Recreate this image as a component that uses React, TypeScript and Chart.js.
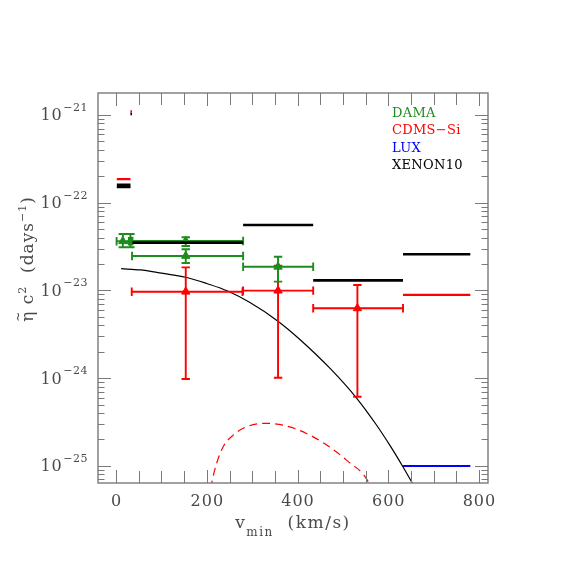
import React, { useEffect, useRef } from 'react';
import { Chart, registerables } from 'chart.js';

Chart.register(...registerables);

// ---- axis ranges & ticks ----
const X_MIN = -40;
const X_MAX = 820;
const Y_MIN = 6.37e-26;
const Y_MAX = 1.78e-21;
const xTickValues = [0, 200, 400, 600, 800];
const xTickLabels = ['0', '200', '400', '600', '800'];
const xMinorTickValues = [50, 100, 150, 250, 300, 350, 450, 500, 550, 650, 700, 750];
const yTickExponents = [-25, -24, -23, -22, -21];
const yMinorMantissas = [2, 3, 4, 5, 6, 7, 8, 9];

// ---- DAMA (green) ----
const damaV = [14.8, 31.5, 153.5, 153.5, 357];
const damaEta = [3.64e-23, 3.64e-23, 3.66e-23, 2.47e-23, 1.86e-23];
const damaEtaLo = [3.1e-23, 3.1e-23, 3.21e-23, 2.05e-23, 1.26e-23];
const damaEtaHi = [4.4e-23, 4.4e-23, 4.03e-23, 2.94e-23, 2.42e-23];
const damaVLo = [1, 28, 36, 35, 280];
const damaVHi = [28.5, 35, 280, 280, 434.5];

// ---- CDMS-Si (red) ----
const cdmsV = [153.5, 357, 532];
const cdmsEta = [9.66e-24, 9.93e-24, 6.25e-24];
const cdmsEtaLo = [9.77e-25, 1.01e-24, 6.14e-25];
const cdmsEtaHi = [1.83e-23, 1.91e-23, 1.15e-23];
const cdmsVLo = [34.4, 280, 434.5];
const cdmsVHi = [278.6, 434.5, 632.6];
const cdmsBoundVLo = [1.5, 31.5, 632.6];
const cdmsBoundVHi = [31.7, 35, 781];
const cdmsBoundEta = [1.86e-22, 1.1e-21, 8.87e-24];

// ---- XENON10 (black) ----
const xenonVLo = [1.5, 1.5, 31.5, 36, 280, 434.5, 632.6];
const xenonVHi = [31.7, 31.7, 35, 280, 434.5, 632.6, 781];
const xenonEta = [1.6e-22, 1.51e-22, 1.03e-21, 3.5e-23, 5.57e-23, 1.3e-23, 2.58e-23];

// ---- LUX (blue) ----
const luxVLo = [632.6];
const luxVHi = [781];
const luxEta = [9.95e-26];

// ---- curves ----
const solidV = [11, 52.9, 89.6, 155.7, 199.7, 246, 295.1, 356.1, 405.2, 471.3, 530.1, 574.1, 603.4, 632.7, 654.7, 669.4];
const solidEta = [1.767e-23, 1.71e-23, 1.608e-23, 1.403e-23, 1.199e-23, 9.84e-24, 7.26e-24, 4.49e-24, 2.76e-24, 1.297e-24, 5.93e-25, 2.92e-25, 1.72e-25, 9.7e-26, 6.15e-26, 4.53e-26];
const dashedV = [209, 210.7, 221.7, 236.3, 258.3, 287.8, 331.8, 375.9, 419.9, 464, 508, 555.7, 560];
const dashedEta = [5.5e-26, 6.31e-26, 1.07e-25, 1.66e-25, 2.24e-25, 2.79e-25, 3.05e-25, 2.84e-25, 2.34e-25, 1.73e-25, 1.16e-25, 6.61e-26, 5.8e-26];

// ---- legend ----
const legendLabels = ['DAMA', 'CDMS\u2212Si', 'LUX', 'XENON10'];
const GREEN = '#1e8c1e';
const RED = '#ff0000';
const BLUE = '#0000ff';
const BLACK = '#000000';
const legendColors = [GREEN, RED, BLUE, BLACK];

const FONT = '"DejaVu Serif", "Liberation Serif", serif';
const AXIS_GRAY = '#7a7a7a';
const TEXT_GRAY = '#4a4a4a';

function segments(lo: number[], hi: number[], eta: number[]) {
  const out: { x: number; y: number | null }[] = [];
  for (let i = 0; i < lo.length; i++) {
    out.push({ x: lo[i], y: eta[i] });
    out.push({ x: hi[i], y: eta[i] });
    out.push({ x: hi[i], y: null });
  }
  return out;
}

const errBars: Record<string, any> = {
  DAMA: { color: GREEN, v: damaV, eta: damaEta, lo: damaEtaLo, hi: damaEtaHi, vlo: damaVLo, vhi: damaVHi },
  'CDMS-Si': { color: RED, v: cdmsV, eta: cdmsEta, lo: cdmsEtaLo, hi: cdmsEtaHi, vlo: cdmsVLo, vhi: cdmsVHi },
};

const errorBarPlugin = {
  id: 'errorBars',
  beforeDatasetDraw(chart: any, args: any) {
    const ds = chart.data.datasets[args.index];
    const eb = errBars[ds.label];
    if (!eb) return;
    const { ctx, chartArea: a, scales } = chart;
    const x = scales.x;
    const y = scales.y;
    ctx.save();
    ctx.beginPath();
    ctx.rect(a.left, a.top, a.right - a.left, a.bottom - a.top);
    ctx.clip();
    ctx.strokeStyle = eb.color;
    ctx.lineWidth = 1.9;
    const c = 4.2;
    ctx.beginPath();
    for (let i = 0; i < eb.v.length; i++) {
      const px = x.getPixelForValue(eb.v[i]);
      const py = y.getPixelForValue(eb.eta[i]);
      const xl = x.getPixelForValue(eb.vlo[i]);
      const xh = x.getPixelForValue(eb.vhi[i]);
      const yl = y.getPixelForValue(eb.lo[i]);
      const yh = y.getPixelForValue(eb.hi[i]);
      ctx.moveTo(xl, py); ctx.lineTo(xh, py);
      ctx.moveTo(xl, py - c); ctx.lineTo(xl, py + c);
      ctx.moveTo(xh, py - c); ctx.lineTo(xh, py + c);
      ctx.moveTo(px, yl); ctx.lineTo(px, yh);
      ctx.moveTo(px - c, yl); ctx.lineTo(px + c, yl);
      ctx.moveTo(px - c, yh); ctx.lineTo(px + c, yh);
    }
    ctx.stroke();
    ctx.restore();
  },
};

const axesPlugin = {
  id: 'customAxes',
  afterDraw(chart: any) {
    const { ctx, chartArea: a, scales } = chart;
    const x = scales.x;
    const y = scales.y;
    ctx.save();
    ctx.strokeStyle = AXIS_GRAY;
    ctx.lineWidth = 1;
    ctx.beginPath();
    const xt = (v: number, len: number) => {
      const px = Math.round(x.getPixelForValue(v)) + 0.5;
      ctx.moveTo(px, a.bottom); ctx.lineTo(px, a.bottom - len);
      ctx.moveTo(px, a.top); ctx.lineTo(px, a.top + len);
    };
    const yt = (v: number, len: number) => {
      const py = Math.round(y.getPixelForValue(v)) + 0.5;
      if (py < a.top || py > a.bottom) return;
      ctx.moveTo(a.left, py); ctx.lineTo(a.left + len, py);
      ctx.moveTo(a.right, py); ctx.lineTo(a.right - len, py);
    };
    xTickValues.forEach((v) => xt(v, 13));
    xMinorTickValues.forEach((v) => xt(v, 12));
    for (let e = -26; e <= -21; e++) {
      if (yTickExponents.includes(e)) yt(Math.pow(10, e), 13);
      yMinorMantissas.forEach((m) => yt(m * Math.pow(10, e), 6.5));
    }
    ctx.stroke();
    ctx.lineWidth = 1.4;
    ctx.strokeRect(a.left, a.top, a.right - a.left, a.bottom - a.top);

    // tick labels
    ctx.fillStyle = TEXT_GRAY;
    ctx.textBaseline = 'alphabetic';
    ctx.font = `16px ${FONT}`;
    ctx.textAlign = 'center';
    (ctx as any).letterSpacing = '1px';
    xTickValues.forEach((v, i) => {
      ctx.fillText(xTickLabels[i], x.getPixelForValue(v) + 0.5, a.bottom + 23);
    });
    yTickExponents.forEach((e) => {
      const py = y.getPixelForValue(Math.pow(10, e));
      const sup = '\u2212' + Math.abs(e);
      ctx.font = `11px ${FONT}`;
      (ctx as any).letterSpacing = '0.5px';
      const sw = ctx.measureText(sup).width;
      const right = a.left - 10;
      ctx.textAlign = 'left';
      ctx.fillText(sup, right - sw, py - 4);
      ctx.font = `16px ${FONT}`;
      (ctx as any).letterSpacing = '1px';
      ctx.textAlign = 'right';
      ctx.fillText('10', right - sw - 0.5, py + 5.5);
    });

    // x title
    (ctx as any).letterSpacing = '1.5px';
    ctx.font = `17px ${FONT}`;
    const w1 = ctx.measureText('v').width;
    const w3 = ctx.measureText('  (km/s)').width;
    ctx.font = `12px ${FONT}`;
    const w2 = ctx.measureText('min').width;
    const total = w1 + w2 + w3;
    let sx = (a.left + a.right) / 2 - total / 2;
    const base = a.bottom + 45;
    ctx.textAlign = 'left';
    ctx.font = `17px ${FONT}`;
    ctx.fillText('v', sx, base);
    sx += w1;
    ctx.font = `12px ${FONT}`;
    ctx.fillText('min', sx, base + 8);
    sx += w2;
    ctx.font = `17px ${FONT}`;
    ctx.fillText('  (km/s)', sx, base);

    // y title
    ctx.save();
    ctx.translate(33, 259);
    ctx.rotate(-Math.PI / 2);
    (ctx as any).letterSpacing = '1px';
    const parts: [string, number, number][] = [
      ['\u03b7', 17, 0],
      [' c', 17, 0],
      ['2', 11, -7],
      ['  (days', 17, 0],
      ['\u22121', 11, -7],
      [')', 17, 0],
    ];
    let tw = 0;
    parts.forEach(([t, s]) => { ctx.font = `${s}px ${FONT}`; tw += ctx.measureText(t).width; });
    let tx = -tw / 2;
    ctx.textAlign = 'left';
    parts.forEach(([t, s, dy], i) => {
      ctx.font = `${s}px ${FONT}`;
      ctx.fillText(t, tx, dy);
      if (i === 0) {
        const ew = ctx.measureText(t).width;
        ctx.font = `12px ${FONT}`;
        ctx.textAlign = 'center';
        ctx.fillText('~', tx + ew / 2, -11);
        ctx.textAlign = 'left';
        ctx.font = `${s}px ${FONT}`;
      }
      tx += ctx.measureText(t).width;
    });
    ctx.restore();

    // legend
    (ctx as any).letterSpacing = '0.3px';
    ctx.font = `13px ${FONT}`;
    ctx.textAlign = 'left';
    legendLabels.forEach((t, i) => {
      ctx.fillStyle = legendColors[i];
      ctx.fillText(t, 392, 116.7 + i * 17.4);
    });
    ctx.restore();
  },
};

export default function App() {
  const ref = useRef<HTMLCanvasElement | null>(null);
  useEffect(() => {
    if (!ref.current) return;
    const chart = new Chart(ref.current, {
      type: 'scatter',
      data: {
        datasets: [
          {
            label: 'LUX', data: segments(luxVLo, luxVHi, luxEta), showLine: true, spanGaps: false,
            borderColor: BLUE, borderWidth: 2, pointRadius: 0, order: 0,
          },
          {
            label: 'CDMS-Si bound', data: segments(cdmsBoundVLo, cdmsBoundVHi, cdmsBoundEta), showLine: true, spanGaps: false,
            borderColor: RED, borderWidth: 2.2, pointRadius: 0, order: 1,
          },
          {
            label: 'XENON10', data: segments(xenonVLo, xenonVHi, xenonEta), showLine: true, spanGaps: false,
            borderColor: BLACK, borderWidth: 2.6, pointRadius: 0, order: 2,
          },
          {
            label: 'DAMA', data: damaV.map((v, i) => ({ x: v, y: damaEta[i] })),
            pointStyle: 'triangle', pointRadius: 4.8, backgroundColor: GREEN, borderColor: GREEN, borderWidth: 1, order: 3,
          },
          {
            label: 'CDMS-Si', data: cdmsV.map((v, i) => ({ x: v, y: cdmsEta[i] })),
            pointStyle: 'triangle', pointRadius: 4.8, backgroundColor: RED, borderColor: RED, borderWidth: 1, order: 4,
          },
          {
            label: 'CDMS-Si expected', data: dashedV.map((v, i) => ({ x: v, y: dashedEta[i] })), showLine: true,
            borderColor: RED, borderWidth: 1.2, borderDash: [8, 5], pointRadius: 0, cubicInterpolationMode: 'monotone', order: 5,
          },
          {
            label: 'DAMA fit', data: solidV.map((v, i) => ({ x: v, y: solidEta[i] })), showLine: true,
            borderColor: BLACK, borderWidth: 1.2, pointRadius: 0, cubicInterpolationMode: 'monotone', order: 6,
          },
        ] as any,
      },
      options: {
        animation: false,
        responsive: false,
        devicePixelRatio: 1,
        layout: { padding: { left: 98, right: 93, top: 93, bottom: 98 } },
        plugins: { legend: { display: false }, tooltip: { enabled: false } },
        scales: {
          x: {
            type: 'linear', min: X_MIN, max: X_MAX,
            ticks: { display: false }, grid: { display: false, drawTicks: false }, border: { display: false },
          },
          y: {
            type: 'logarithmic', min: Y_MIN, max: Y_MAX,
            ticks: { display: false }, grid: { display: false, drawTicks: false }, border: { display: false },
          },
        },
      } as any,
      plugins: [errorBarPlugin, axesPlugin],
    });
    return () => chart.destroy();
  }, []);
  return (
    <div style={{ position: 'fixed', left: 0, top: 0, width: 581, height: 581, background: '#fff' }}>
      <canvas ref={ref} width={581} height={581} style={{ display: 'block' }} />
    </div>
  );
}
